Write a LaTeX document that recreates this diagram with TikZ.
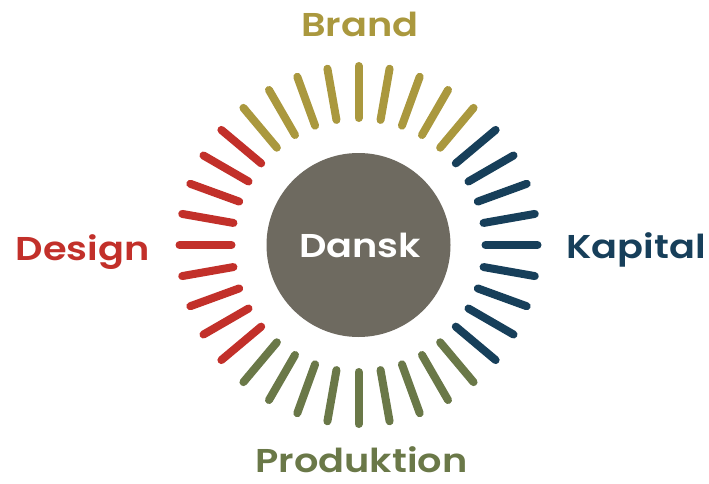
\documentclass[tikz,border=0pt]{standalone}
\usepackage{fontspec}
\setmainfont{Poppins}[UprightFont=* SemiBold, BoldFont=* Bold]
\usetikzlibrary{calc}
\definecolor{cbrand}{HTML}{AA983E}
\definecolor{cdesign}{HTML}{C2302A}
\definecolor{ckapital}{HTML}{173F5A}
\definecolor{cprod}{HTML}{6A7848}
\definecolor{cdansk}{HTML}{6E6A60}
\newcommand{\wide}[1]{\scalebox{1.16}[1]{#1}}
\tikzset{
  ray/.style={line width=8pt, line cap=round},
  lbl/.style={font=\fontsize{33}{36}\selectfont, anchor=base, inner sep=0pt}
}
\begin{document}
\begin{tikzpicture}[x=1pt,y=1pt]
\useasboundingbox (0,0) rectangle (709,483);
\coordinate (c) at (358.5,238);
\node[circle, fill=cdansk, minimum size=184pt, inner sep=0pt] (dansk) at (c) {};
\node[lbl, text=white] (dansktxt) at (360,226) {\wide{Dansk}};
\foreach \a in {50,60,...,130} \draw[ray, cbrand] ($(c)+(\a:127)$) -- ($(c)+(\a:179)$);
\foreach \a in {140,150,...,220} \draw[ray, cdesign] ($(c)+(\a:127)$) -- ($(c)+(\a:179)$);
\foreach \a in {230,240,...,310} \draw[ray, cprod] ($(c)+(\a:127)$) -- ($(c)+(\a:179)$);
\foreach \a in {320,330,...,400} \draw[ray, ckapital] ($(c)+(\a:127)$) -- ($(c)+(\a:179)$);
\node[lbl, text=cbrand] (brand) at (360,446) {\wide{Brand}};
\node[lbl, text=cdesign] (design) at (82.5,223) {\wide{Design}};
\node[lbl, text=ckapital] (kapital) at (636,225) {\wide{Kapital}};
\node[lbl, text=cprod] (prod) at (361.5,11) {\wide{Produktion}};
\end{tikzpicture}
\end{document}
